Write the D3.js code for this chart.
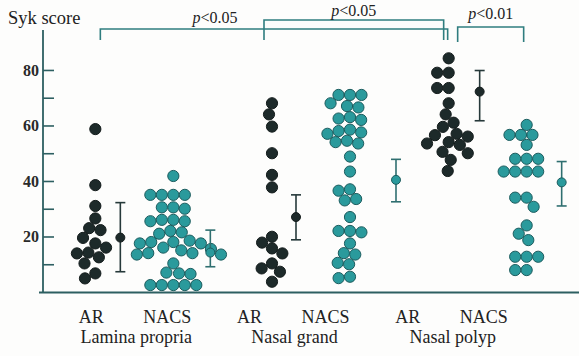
<!DOCTYPE html>
<html>
<head>
<meta charset="utf-8">
<script src="https://cdn.jsdelivr.net/npm/d3@7"></script>
<style>
  body { margin: 0; background: #fdfdfc; }
  svg { display: block; font-family: "Liberation Serif", "DejaVu Serif", serif; }
</style>
</head>
<body>
<div id="chart"></div>
<script>
// Chart size
const width = 579;
const height = 356;

// Categories
const groups = ["Lamina propria", "Nasal grand", "Nasal polyp"];
const subjects = ["AR", "NACS"];
const yTicks = [10, 20, 30, 40, 50, 60, 70, 80];

// Syk score of each sample
const lpAR = [58.7, 38.5, 31, 26.5, 23, 22.3, 19.5, 17.5, 16, 14.2, 13.9, 12.5, 10.3, 6.7, 4.9];
const lpNACS = [41.8, 35, 35, 35, 35, 30.5, 30.5, 30, 26, 26, 25.5, 25.5, 22, 21.5, 21,
  18.5, 18, 18, 17.5, 17.5, 16, 15.5, 15, 14, 14, 13.5, 13.5, 10.3, 7, 6.7, 6.5,
  2.5, 2.5, 2.5, 2.5, 2.5];
const ngAR = [68, 64, 59.6, 50, 42.2, 37.7, 19.9, 17.8, 15.7, 13.9, 10.3, 8.5, 7.3, 3.7];
const ngNACS = [71, 71, 71, 68, 67, 66.5, 63, 62.5, 62, 58.5, 58, 57.5, 57, 54.5, 54, 53.5,
  48.8, 43.4, 37, 36.5, 33.5, 33, 27, 22, 22, 21.5, 17.5, 14, 13.5, 10.5, 10, 5.5, 5];
const npAR = [84.2, 79, 79, 73.5, 73.5, 68, 64, 61, 59.5, 57, 56.5, 56, 54, 53.5, 53,
  50.5, 50, 47.6, 43.6];
const npNACS = [60.2, 56.6, 56.6, 56.6, 53, 48, 48, 48, 43.4, 43.4, 43.4, 43.4, 34, 34,
  30.7, 24, 21, 18.7, 12.7, 12.7, 12.7, 7.9, 7.9];

// Mean and error bar ends, in order LP AR, LP NACS, NG AR, NG NACS, NP AR, NP NACS
const meanValues = [19.6, 14.2, 27, 40.4, 72.2, 39.5];
const lowValues = [7.3, 9.1, 18.8, 32.5, 61.7, 31];
const highValues = [32.2, 22.3, 35, 47.8, 79.8, 47];

// Significance brackets
const comparisons = [
  { a: [0, "AR"], b: [2, "AR"], label: "0.05" },
  { a: [1, "AR"], b: [2, "AR"], label: "0.05" },
  { a: [2, "AR"], b: [2, "NACS"], label: "0.01" }
];

const sets = [
  { g: 0, s: "AR", values: lpAR, bar: 25 },
  { g: 0, s: "NACS", values: lpNACS, bar: 37 },
  { g: 1, s: "AR", values: ngAR, bar: 24 },
  { g: 1, s: "NACS", values: ngNACS, bar: 46 },
  { g: 2, s: "AR", values: npAR, bar: 31 },
  { g: 2, s: "NACS", values: npNACS, bar: 35 }
];

const darkFill = "#1d2a2a";
const tealFill = "#2a9a9c";
const tealStroke = "#1c5c5e";
const axisColor = "#2d5f61";

const svg = d3.select("#chart").append("svg")
  .attr("width", width)
  .attr("height", height);

// Scales
const y = d3.scaleLinear().domain([0, 94.4]).range([292, 30]);
const xGroup = d3.scaleBand().domain(d3.range(groups.length)).range([46, 576]);
const xSub = d3.scalePoint().domain(subjects).range([-39, 39]);
const cx = (g, s) => xGroup(g) + xGroup.bandwidth() / 2 + xSub(s);

// label scales (labels sit a little left of the columns)
const xLabel = d3.scaleBand().domain(d3.range(groups.length)).range([50, 525]);
const xLabelSub = d3.scalePoint().domain(subjects).range([-38, 38]);

// Simple beeswarm: each dot goes as close to the column centre as it can
const r = 5.6;
function swarm(values) {
  const placed = [];
  const gap = 2 * r + 0.3;
  values.slice().sort((a, b) => b - a).forEach(v => {
    const py = y(v);
    const cands = [0];
    placed.forEach(p => {
      const dy = Math.abs(p.y - py);
      if (dy < gap) {
        const dx = Math.sqrt(gap * gap - dy * dy);
        cands.push(p.x + dx, p.x - dx);
      }
    });
    cands.sort((a, b) => Math.abs(a) - Math.abs(b) || a - b);
    const x = cands.find(c => placed.every(p => Math.hypot(p.x - c, p.y - py) >= gap - 0.01));
    placed.push({ x: x, y: py, v: v });
  });
  return placed;
}

// Axes
svg.append("line")
  .attr("x1", 43).attr("x2", 43)
  .attr("y1", y(94.4)).attr("y2", y(0))
  .attr("stroke", axisColor).attr("stroke-width", 1.8);
svg.append("line")
  .attr("x1", 39).attr("x2", width)
  .attr("y1", y(0) + 0.5).attr("y2", y(0) + 0.5)
  .attr("stroke", axisColor).attr("stroke-width", 2);

const yAxis = svg.append("g")
  .attr("transform", "translate(43,0)")
  .call(d3.axisLeft(y).tickValues(yTicks).tickSize(-11).tickPadding(4)
    .tickFormat(d => d % 20 === 0 ? d : ""));
yAxis.select(".domain").remove();
yAxis.selectAll(".tick line").attr("stroke", axisColor).attr("stroke-width", 1.6);
yAxis.selectAll(".tick text")
  .attr("fill", "#2a2a2a")
  .style("font-size", "16px")
  .style("font-weight", "bold")
  .style("font-family", "'Liberation Serif', serif");

svg.append("text")
  .attr("x", 8).attr("y", 24)
  .attr("fill", "#222")
  .style("font-size", "18.5px")
  .text("Syk score");

// Dots
sets.forEach(set => {
  const c = cx(set.g, set.s);
  const dots = swarm(set.values);
  svg.append("g").selectAll("circle")
    .data(dots)
    .join("circle")
    .attr("cx", d => c + d.x)
    .attr("cy", d => d.y)
    .attr("r", r)
    .attr("fill", set.s === "AR" ? darkFill : tealFill)
    .attr("stroke", set.s === "AR" ? "#141c1c" : tealStroke)
    .attr("stroke-width", 1);
});

// Mean +/- error bars
sets.forEach((set, i) => {
  const ex = cx(set.g, set.s) + set.bar;
  const col = set.s === "AR" ? "#26393a" : "#2f6f70";
  const g = svg.append("g").attr("stroke", col).attr("stroke-width", 1.6);
  g.append("line").attr("x1", ex).attr("x2", ex)
    .attr("y1", y(lowValues[i])).attr("y2", y(highValues[i]));
  [lowValues[i], highValues[i]].forEach(v => {
    g.append("line").attr("x1", ex - 5).attr("x2", ex + 5)
      .attr("y1", y(v)).attr("y2", y(v));
  });
  svg.append("circle")
    .attr("cx", ex).attr("cy", y(meanValues[i])).attr("r", 4.5)
    .attr("fill", set.s === "AR" ? darkFill : tealFill)
    .attr("stroke", set.s === "AR" ? "#141c1c" : tealStroke);
});

// Significance brackets
const bracketTop = [29, 20, 27];
const bracketEnd = [[5, -1], [-8, -5], [9, -3]];
const bracketFoot = [40, 40, 42];
const labelBase = [23, 16, 19];
const labelAt = [0.33, 0.5, 0.5];
comparisons.forEach((c, i) => {
  const x1 = cx(c.a[0], c.a[1]) + bracketEnd[i][0];
  const x2 = cx(c.b[0], c.b[1]) + bracketEnd[i][1];
  svg.append("path")
    .attr("d", `M${x1},${bracketFoot[i]}V${bracketTop[i]}H${x2}V${bracketFoot[i]}`)
    .attr("fill", "none")
    .attr("stroke", "#2f7d7f")
    .attr("stroke-width", 1.6);
  const t = svg.append("text")
    .attr("x", x1 + (x2 - x1) * labelAt[i])
    .attr("y", labelBase[i])
    .attr("text-anchor", "middle")
    .attr("fill", "#222")
    .style("font-size", "16px");
  t.append("tspan").style("font-style", "italic").text("p");
  t.append("tspan").text("<" + c.label);
});

// Category labels
groups.forEach((name, gi) => {
  const gc = xLabel(gi) + xLabel.bandwidth() / 2;
  subjects.forEach(s => {
    svg.append("text")
      .attr("x", gc + xLabelSub(s))
      .attr("y", 323)
      .attr("text-anchor", "middle")
      .attr("fill", "#222")
      .style("font-size", "18px")
      .text(s);
  });
  svg.append("text")
    .attr("x", gc + 7)
    .attr("y", 343)
    .attr("text-anchor", "middle")
    .attr("fill", "#222")
    .style("font-size", "18px")
    .text(name);
});
</script>
</body>
</html>
